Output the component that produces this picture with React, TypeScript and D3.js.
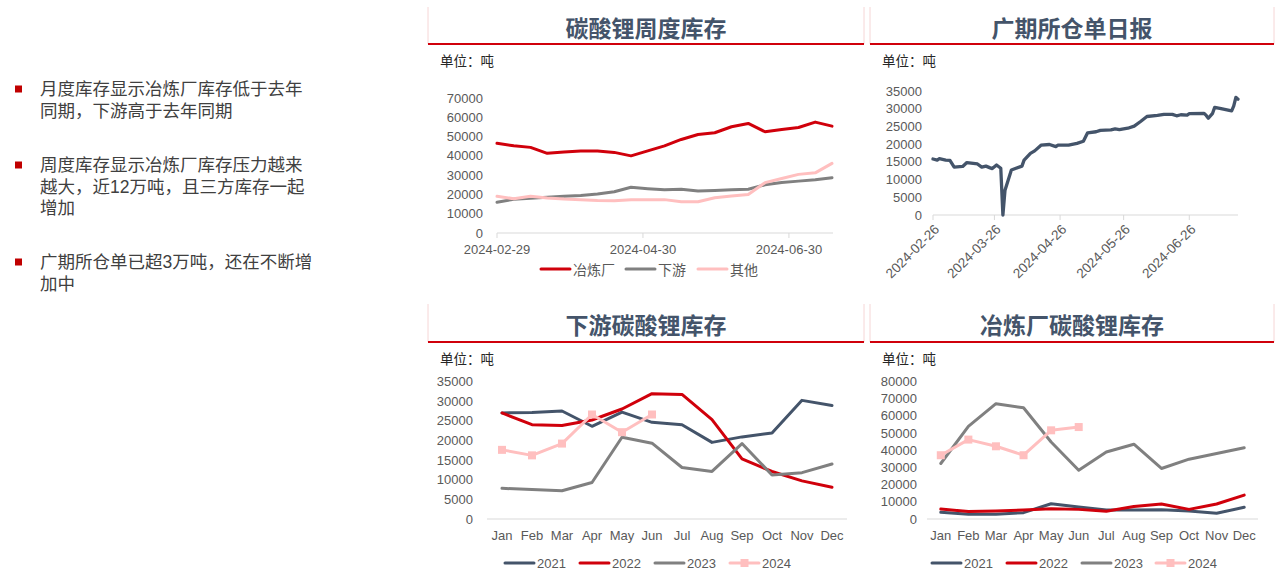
import React from "react";
import * as d3 from "d3";

const W = 1281;
const H = 584;
const NUM_FONT = "'Liberation Sans', Arial, sans-serif";
const CJK_FONT = "'Noto Sans CJK SC', 'Noto Sans', sans-serif";
// latin primary font keeps the line box compact; CJK glyphs fall back to Noto CJK
const BULLET_FONT = "'Liberation Sans', 'Noto Sans CJK SC', sans-serif";

const TITLE_COLOR = "#44546A";
const TICK_COLOR = "#595959";
const AXIS_COLOR = "#D9D9D9";
const RED = "#D0000B";
const DARK = "#44546A";
const GRAY = "#808080";
const PINK = "#FFBFBF";

// ---- left bullet text ----
const bullets = [
  ["月度库存显示冶炼厂库存低于去年", "同期，下游高于去年同期"],
  ["周度库存显示冶炼厂库存压力越来", "越大，近12万吨，且三方库存一起", "增加"],
  ["广期所仓单已超3万吨，还在不断增", "加中"],
];
const bulletTops = [89, 165, 262];

// ---- 碳酸锂周度库存 (weekly) ----
const weekDates = [
  "2024-02-29", "2024-03-07", "2024-03-14", "2024-03-21", "2024-03-28", "2024-04-04",
  "2024-04-11", "2024-04-18", "2024-04-25", "2024-05-02", "2024-05-09", "2024-05-16",
  "2024-05-23", "2024-05-30", "2024-06-06", "2024-06-13", "2024-06-20", "2024-06-27",
  "2024-07-04", "2024-07-11", "2024-07-18",
];
const weekSmelter = [
  46500, 45200, 44400, 41300, 42000, 42500, 42500, 41800, 40000, 42600, 45200,
  48500, 51100, 52000, 55100, 56800, 52500, 53700, 54700, 57500, 55400,
];
const weekDownstream = [
  15900, 17500, 18000, 18500, 19000, 19500, 20200, 21400, 23700, 23000, 22400,
  22700, 21800, 22100, 22400, 22700, 25000, 26200, 26900, 27600, 28700,
];
const weekOther = [
  19000, 17800, 19000, 18100, 17600, 17300, 16900, 16700, 17300, 17300, 17300,
  16200, 16200, 18300, 19200, 20000, 26100, 28300, 30400, 31200, 36100,
];
const weekTicks = ["2024-02-29", "2024-04-30", "2024-06-30"];
const weekYTicks = [0, 10000, 20000, 30000, 40000, 50000, 60000, 70000];

// ---- 广期所仓单日报 (daily) ----
const dayDates = [
  "2024-02-26", "2024-02-28", "2024-02-29", "2024-03-03", "2024-03-05", "2024-03-07",
  "2024-03-11", "2024-03-13", "2024-03-18", "2024-03-20", "2024-03-22", "2024-03-24",
  "2024-03-25", "2024-03-27", "2024-03-29", "2024-03-30", "2024-03-31", "2024-04-02",
  "2024-04-03", "2024-04-08", "2024-04-09", "2024-04-12", "2024-04-14", "2024-04-17",
  "2024-04-21", "2024-04-24", "2024-04-25", "2024-04-30", "2024-05-04", "2024-05-07",
  "2024-05-09", "2024-05-13", "2024-05-15", "2024-05-20", "2024-05-22", "2024-05-24",
  "2024-05-28", "2024-05-31", "2024-06-03", "2024-06-06", "2024-06-11", "2024-06-14",
  "2024-06-18", "2024-06-20", "2024-06-22", "2024-06-25", "2024-06-26", "2024-07-03",
  "2024-07-04", "2024-07-05", "2024-07-07", "2024-07-08", "2024-07-11", "2024-07-16",
  "2024-07-17", "2024-07-18", "2024-07-19",
];
const dayValues = [
  15800, 15500, 15900, 15500, 15400, 13500, 13700, 14800, 14400, 13500, 13800, 13300,
  13100, 14100, 13200, 0, 7000, 10800, 12700, 13800, 15500, 17400, 18100, 19700,
  19900, 19300, 19700, 19700, 20200, 20800, 23200, 23500, 23900, 24000, 24300, 24100,
  24500, 25100, 26400, 27800, 28100, 28400, 28400, 28000, 28300, 28200, 28600, 28700,
  28100, 27300, 28700, 30400, 30000, 29400, 30800, 33200, 32700,
];
const dayTicks = ["2024-02-26", "2024-03-26", "2024-04-26", "2024-05-26", "2024-06-26"];
const dayYTicks = [0, 5000, 10000, 15000, 20000, 25000, 30000, 35000];

// ---- monthly charts ----
const months = ["Jan", "Feb", "Mar", "Apr", "May", "Jun", "Jul", "Aug", "Sep", "Oct", "Nov", "Dec"];
const years = ["2021", "2022", "2023", "2024"];

const down2021 = [27000, 27100, 27500, 23600, 27200, 24600, 24000, 19500, 20900, 21900, 30200, 28900];
const down2022 = [27000, 24000, 23800, 25200, 28000, 31900, 31700, 25300, 15300, 12100, 9700, 8100];
const down2023 = [7800, 7500, 7200, 9300, 20800, 19300, 13100, 12100, 19200, 11200, 11800, 14000];
const down2024 = [17600, 16200, 19200, 26600, 22100, 26600];
const downYTicks = [0, 5000, 10000, 15000, 20000, 25000, 30000, 35000];

const smelt2021 = [3900, 2700, 2700, 3700, 8900, 7000, 5200, 5200, 5400, 4600, 3300, 6800];
const smelt2022 = [5800, 4300, 4600, 5200, 6000, 5600, 4500, 7300, 8700, 5600, 8700, 13900];
const smelt2023 = [32300, 53900, 67100, 64700, 44800, 28400, 39000, 43500, 29400, 34800, 38100, 41400];
const smelt2024 = [37100, 46200, 42300, 37100, 51600, 53500];
const smeltYTicks = [0, 10000, 20000, 30000, 40000, 50000, 60000, 70000, 80000];

const yearColors = [DARK, RED, GRAY, PINK];

const parse = d3.timeParse("%Y-%m-%d");

function Header({ x0, x1, top, lineY, title }: { x0: number; x1: number; top: number; lineY: number; title: string }) {
  return (
    <g>
      <line x1={x0} x2={x0} y1={top} y2={lineY} stroke="#F6D6D6" strokeWidth={1} />
      <line x1={x1} x2={x1} y1={top} y2={lineY} stroke="#F6D6D6" strokeWidth={1} />
      <line x1={x0} x2={x1} y1={lineY} y2={lineY} stroke={RED} strokeWidth={2} />
      <text x={(x0 + x1) / 2} y={(top + lineY) / 2 + 1} textAnchor="middle" dominantBaseline="central"
        fontFamily={CJK_FONT} fontWeight={700} fontSize={23} fill={TITLE_COLOR}>{title}</text>
      <text x={x0 + 12} y={lineY + 16} dominantBaseline="central" fontFamily={CJK_FONT}
        fontSize={13.5} fill="#262626">单位：吨</text>
    </g>
  );
}

function YTicks({ ticks, y, xRight }: { ticks: number[]; y: d3.ScaleLinear<number, number>; xRight: number }) {
  return (
    <g fontFamily={NUM_FONT} fontSize={13} fill={TICK_COLOR}>
      {ticks.map((t) => (
        <text key={t} x={xRight} y={y(t)} textAnchor="end" dominantBaseline="central">{t}</text>
      ))}
    </g>
  );
}

function Bullets() {
  return (
    <g fontFamily={BULLET_FONT} fontSize={17.5} fill="#404040">
      {bullets.map((lines, bi) => (
        <g key={bi}>
          <rect x={15} y={bulletTops[bi] - 3.5} width={7} height={7} fill="#C00000" />
          {lines.map((ln, li) => (
            <text key={li} x={40} y={bulletTops[bi] + 6 + li * 21.7}>{ln}</text>
          ))}
        </g>
      ))}
    </g>
  );
}

function WeeklyChart() {
  const dates = weekDates.map((d) => parse(d) as Date);
  const x = d3.scaleTime().domain([dates[0], dates[dates.length - 1]]).range([497, 832]);
  const y = d3.scaleLinear().domain([0, 70000]).range([233, 98]);
  const line = d3.line<number>().x((_, i) => x(dates[i])).y((d) => y(d));
  const series = [
    { name: "冶炼厂", values: weekSmelter, color: RED },
    { name: "下游", values: weekDownstream, color: GRAY },
    { name: "其他", values: weekOther, color: PINK },
  ];
  const legendX = [541, 626, 698];
  return (
    <g>
      <Header x0={428} x1={864} top={7} lineY={44} title="碳酸锂周度库存" />
      <YTicks ticks={weekYTicks} y={y} xRight={483} />
      <line x1={497} x2={833} y1={y(0)} y2={y(0)} stroke={AXIS_COLOR} />
      {weekTicks.map((t) => {
        const tx = x(parse(t) as Date);
        return (
          <g key={t}>
            <line x1={tx} x2={tx} y1={y(0)} y2={y(0) + 5} stroke={AXIS_COLOR} />
            <text x={tx} y={249} textAnchor="middle" dominantBaseline="central" fontFamily={NUM_FONT}
              fontSize={13} fill={TICK_COLOR}>{t}</text>
          </g>
        );
      })}
      {series.map((s) => (
        <path key={s.name} d={line(s.values) || ""} fill="none" stroke={s.color} strokeWidth={3}
          strokeLinejoin="round" strokeLinecap="round" />
      ))}
      {series.map((s, i) => (
        <g key={s.name}>
          <line x1={legendX[i]} x2={legendX[i] + 29} y1={269} y2={269} stroke={s.color} strokeWidth={3} strokeLinecap="round" />
          <text x={legendX[i] + 32} y={269} dominantBaseline="central" fontFamily={CJK_FONT} fontSize={14}
            fill={TICK_COLOR}>{s.name}</text>
        </g>
      ))}
    </g>
  );
}

function DailyChart() {
  const dates = dayDates.map((d) => parse(d) as Date);
  const x = d3.scaleTime().domain([parse("2024-02-26") as Date, parse("2024-07-19") as Date]).range([933, 1238]);
  const y = d3.scaleLinear().domain([0, 35000]).range([215, 91]);
  const line = d3.line<number>().x((_, i) => x(dates[i])).y((d) => y(d));
  return (
    <g>
      <Header x0={870} x1={1274} top={7} lineY={44} title="广期所仓单日报" />
      <YTicks ticks={dayYTicks} y={y} xRight={922} />
      <line x1={933} x2={1238} y1={y(0)} y2={y(0)} stroke={AXIS_COLOR} />
      {dayTicks.map((t) => {
        const tx = x(parse(t) as Date);
        return (
          <g key={t}>
            <line x1={tx} x2={tx} y1={y(0)} y2={y(0) + 5} stroke={AXIS_COLOR} />
            <text transform={`translate(${tx + 4},${y(0) + 12}) rotate(-45)`} textAnchor="end"
              dominantBaseline="central" fontFamily={NUM_FONT} fontSize={13.5} fill={TICK_COLOR}>{t}</text>
          </g>
        );
      })}
      <path d={line(dayValues) || ""} fill="none" stroke={DARK} strokeWidth={3.3}
        strokeLinejoin="round" strokeLinecap="round" />
    </g>
  );
}

function MonthlyChart({ x0, x1, title, axisL, axisR, yMax, yTicks, yLabelRight, data, legendX }: {
  x0: number; x1: number; title: string; axisL: number; axisR: number; yMax: number;
  yTicks: number[]; yLabelRight: number; data: number[][]; legendX: number[];
}) {
  const x = d3.scaleBand<string>().domain(months).range([axisL, axisR]);
  const cx = (m: string) => (x(m) as number) + x.bandwidth() / 2;
  const y = d3.scaleLinear().domain([0, yMax]).range([519, 381.5]);
  const line = d3.line<number>().x((_, i) => cx(months[i])).y((d) => y(d));
  return (
    <g>
      <Header x0={x0} x1={x1} top={304} lineY={342} title={title} />
      <YTicks ticks={yTicks} y={y} xRight={yLabelRight} />
      <line x1={axisL} x2={axisR} y1={y(0)} y2={y(0)} stroke={AXIS_COLOR} />
      {months.map((m) => (
        <text key={m} x={cx(m)} y={535} textAnchor="middle" dominantBaseline="central" fontFamily={NUM_FONT}
          fontSize={13} fill={TICK_COLOR}>{m}</text>
      ))}
      {data.map((vals, i) => (
        <path key={years[i]} d={line(vals) || ""} fill="none" stroke={yearColors[i]} strokeWidth={3}
          strokeLinejoin="round" strokeLinecap="round" />
      ))}
      {data[3].map((v, i) => (
        <rect key={i} x={cx(months[i]) - 4} y={y(v) - 4} width={8} height={8} fill={PINK} />
      ))}
      {years.map((yr, i) => (
        <g key={yr}>
          <line x1={legendX[i]} x2={legendX[i] + 29} y1={563} y2={563} stroke={yearColors[i]} strokeWidth={3}
            strokeLinecap="round" />
          {i === 3 && <rect x={legendX[i] + 10.5} y={559} width={8} height={8} fill={PINK} />}
          <text x={legendX[i] + 32} y={563} dominantBaseline="central" fontFamily={NUM_FONT} fontSize={13}
            fill={TICK_COLOR}>{yr}</text>
        </g>
      ))}
    </g>
  );
}

export default function App() {
  return (
    <svg width={W} height={H} style={{ position: "absolute", left: 0, top: 0, background: "#fff" }}>
      <Bullets />
      <WeeklyChart />
      <DailyChart />
      <MonthlyChart x0={428} x1={864} title="下游碳酸锂库存" axisL={487} axisR={847} yMax={35000}
        yTicks={downYTicks} yLabelRight={473} data={[down2021, down2022, down2023, down2024]}
        legendX={[505, 580, 655, 730]} />
      <MonthlyChart x0={870} x1={1274} title="冶炼厂碳酸锂库存" axisL={927} axisR={1258} yMax={80000}
        yTicks={smeltYTicks} yLabelRight={917} data={[smelt2021, smelt2022, smelt2023, smelt2024]}
        legendX={[932, 1007, 1082, 1156]} />
    </svg>
  );
}
